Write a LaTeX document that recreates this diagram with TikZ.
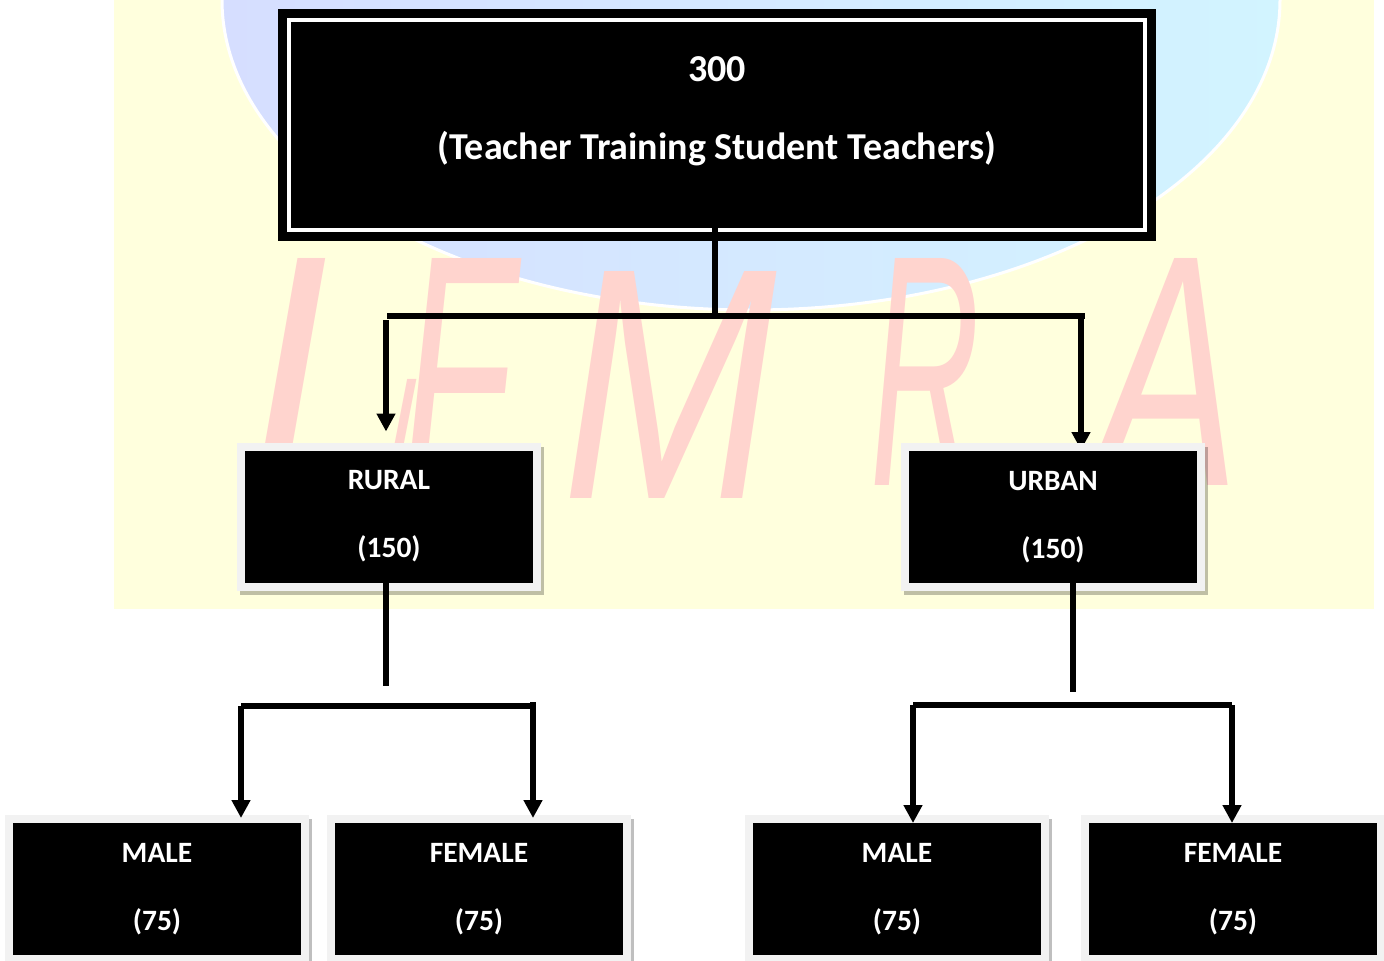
\documentclass[tikz,border=0pt]{standalone}
\usepackage{fontspec}
\setmainfont{Carlito}
\newfontfamily\markfont{Liberation Sans}
\usetikzlibrary{arrows.meta,shadows,backgrounds}
\definecolor{sheetyellow}{HTML}{FFFFDD}
\definecolor{framegray}{HTML}{F2F2F2}
\definecolor{markpink}{HTML}{FFD4CE}
\definecolor{globeleft}{HTML}{D6DEFF}
\definecolor{globemid}{HTML}{CCD2FF}
\definecolor{globeright}{HTML}{D2F4FF}
\begin{document}
\begin{tikzpicture}[x=1pt,y=-1pt,
    rootbox/.style={fill=black,draw=black,line width=9pt,double=white,double distance=4pt,outer sep=0pt,
        minimum width=856pt,minimum height=210pt,text=white,align=center,font=\bfseries\fontsize{38}{78}\selectfont},
    databox/.style={fill=black,draw=framegray,line width=8pt,outer sep=0pt,
        minimum width=296pt,minimum height=140pt,text=white,align=center,font=\bfseries\fontsize{29.5}{68}\selectfont,
        drop shadow={draw=black,line width=8pt,shadow xshift=3pt,shadow yshift=-4pt,opacity=.25}},
    letterbox/.style={text=markpink,inner sep=0pt,font=\markfont\itshape\fontsize{330}{330}\selectfont},
    link/.style={line width=5.5pt},
    arrowlink/.style={line width=5.5pt,-{Triangle[length=18pt,width=18pt]}}]
    \useasboundingbox (0,0) rectangle (1384,961);
    \clip (0,0) rectangle (1384,961);
    \begin{scope}[on background layer]
        \fill[sheetyellow] (114,0) rectangle (1374,609);
        \shade[left color=globeleft,middle color=globemid,right color=globeright,draw=white,line width=3pt]
            (751,0) ellipse [x radius=529,y radius=310];
        \node[letterbox,xscale=.9,transform shape] (letteri) at (288,372) {I};
        \node[letterbox,scale=.3,transform shape] (letterj) at (404,413) {I};
        \node[letterbox,xscale=.55,transform shape] (letterf) at (458,372) {F};
        \node[letterbox,xscale=.78,transform shape] (letterm) at (670,385) {M};
        \node[letterbox,xscale=.46,transform shape] (letterr) at (925,372) {R};
        \node[letterbox,xscale=.65,transform shape] (lettera) at (1168,372) {A};
    \end{scope}
    \node[rootbox] (root) at (717,125) {300\\(Teacher Training Student Teachers)\\[-44pt]~};
    \node[databox] (rural) at (389,516.5) {RURAL\\(150)};
    \node[databox] (urban) at (1053,517) {URBAN\\(150)};
    \node[databox] (male1) at (157,889) {MALE\\(75)};
    \node[databox] (female1) at (479,889) {FEMALE\\(75)};
    \node[databox] (male2) at (897,889) {MALE\\(75)};
    \node[databox] (female2) at (1233,889) {FEMALE\\(75)};
    \coordinate (rootjoin) at (715,316);
    \coordinate (ruralbar) at (387,316);
    \coordinate (urbanbar) at (1085,316);
    \coordinate (ruralend) at (386,320);
    \coordinate (urbanend) at (1081,316);
    \coordinate (ruralstem) at (386,686);
    \coordinate (urbanstem) at (1073,692);
    \coordinate (male1bar) at (241,706);
    \coordinate (female1bar) at (536,706);
    \coordinate (female1end) at (533,702);
    \coordinate (male2bar) at (913,705);
    \coordinate (female2bar) at (1232,705);
    \draw[link,shorten <=-2pt] (root.south -| rootjoin) -- (rootjoin);
    \draw[link] (ruralbar) -- (urbanbar);
    \draw[arrowlink,shorten >=15pt] (ruralend) -- (ruralend |- rural.north);
    \begin{scope}[on background layer]
        \draw[arrowlink,shorten >=-3pt] (urbanend) -- (urbanend |- urban.north);
    \end{scope}
    \draw[link,shorten <=-4pt] (rural.south -| ruralstem) -- (ruralstem);
    \draw[link,shorten <=-4pt] (urban.south -| urbanstem) -- (urbanstem);
    \draw[link] (male1bar) -- (female1bar);
    \draw[link] (male2bar) -- (female2bar);
    \draw[arrowlink,shorten >=1pt] (male1bar) -- (male1bar |- male1.north);
    \draw[arrowlink,shorten >=1pt] (female1end) -- (female1end |- female1.north);
    \draw[arrowlink,shorten >=-4pt] (male2bar) -- (male2bar |- male2.north);
    \draw[arrowlink,shorten >=-4pt] (female2bar) -- (female2bar |- female2.north);
\end{tikzpicture}
\end{document}
